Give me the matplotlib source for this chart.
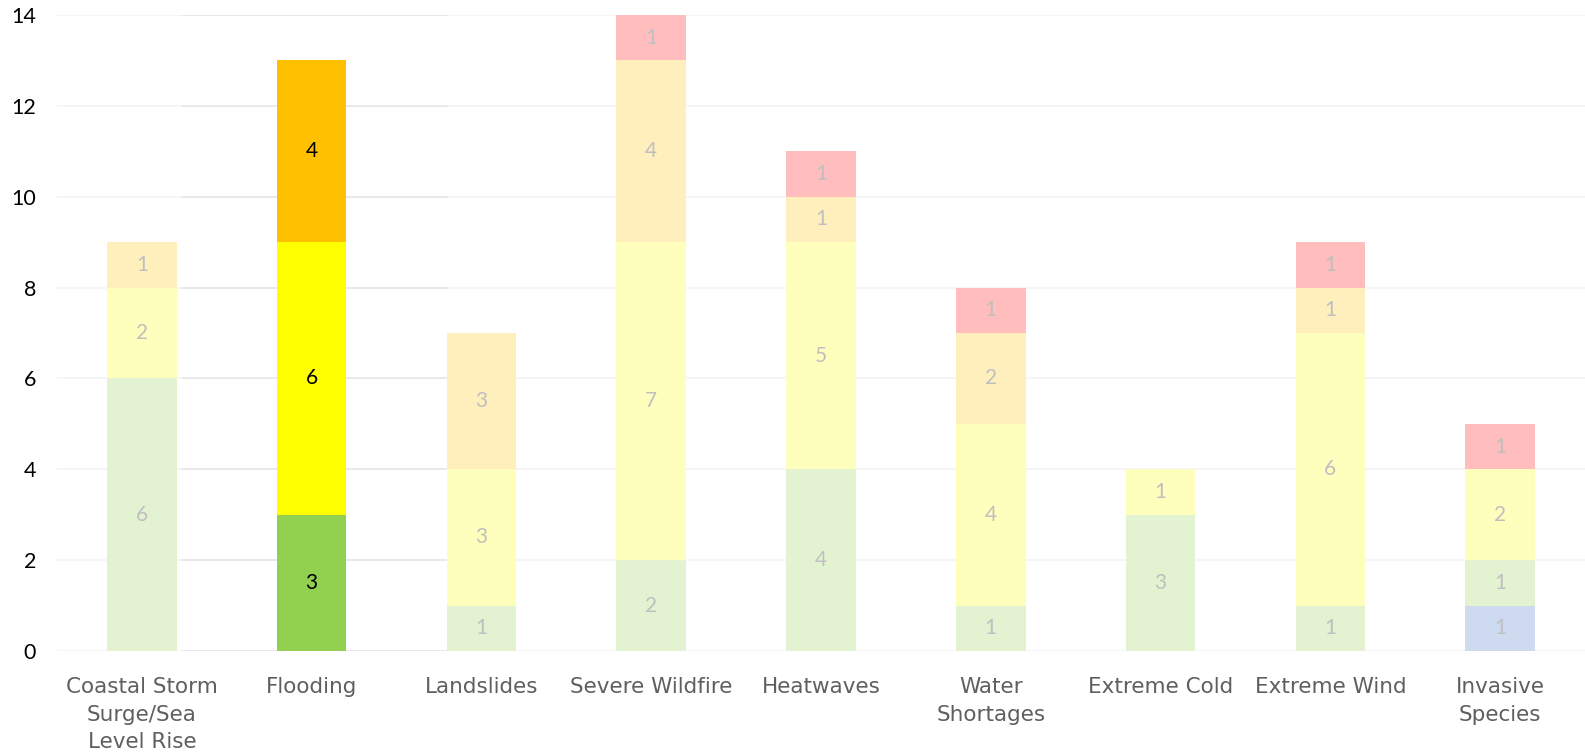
import matplotlib
matplotlib.use("Agg")
import matplotlib.pyplot as plt
import numpy as np

categories = ["Coastal Storm\nSurge/Sea\nLevel Rise", "Flooding", "Landslides", "Severe Wildfire",
              "Heatwaves", "Water\nShortages", "Extreme Cold", "Extreme Wind", "Invasive\nSpecies"]
blue   = [0, 0, 0, 0, 0, 0, 0, 0, 1]
green  = [6, 3, 1, 2, 4, 1, 3, 1, 1]
yellow = [2, 6, 3, 7, 5, 4, 1, 6, 2]
orange = [1, 4, 3, 4, 1, 2, 0, 1, 0]
red    = [0, 0, 0, 1, 1, 1, 0, 1, 1]
series = [blue, green, yellow, orange, red]
base_colors = ["#4472c4", "#92d050", "#ffff00", "#ffc000", "#ff0000"]
highlight = 1  # Flooding
yticks = [0, 2, 4, 6, 8, 10, 12, 14]

def fade(hexc, a=0.26):
    c = np.array(matplotlib.colors.to_rgb(hexc))
    return tuple(1 - a * (1 - c))

fig = plt.figure(figsize=(15.85, 7.53), dpi=100)
ax = fig.add_axes([57/1585, 1 - 651/753, 1528/1585, (651-15)/753])
n = len(categories)
x = np.arange(n)
ax.set_xlim(-0.5, n - 0.5)
ax.set_ylim(0, 14)

for yv in yticks:
    ax.axhline(yv, color="#f5f5f5", lw=1.3, zorder=0)
    ax.hlines(yv, 0.236, 1.803, color="#e8e8e8", lw=1.3, zorder=0.5)

bottom = np.zeros(n)
for vals, col in zip(series, base_colors):
    vals = np.array(vals, dtype=float)
    cols = [col if i == highlight else fade(col) for i in range(n)]
    ax.bar(x, vals, width=0.41, bottom=bottom, color=cols, zorder=2)
    for i in range(n):
        if vals[i] > 0:
            ax.text(x[i], bottom[i] + vals[i] / 2, f"{int(vals[i])}",
                    ha="center", va="center", fontsize=15, family="Lato",
                    color="black" if i == highlight else "#bfbfbf", zorder=3)
    bottom += vals

for s in ax.spines.values():
    s.set_visible(False)
ax.set_yticks(yticks)
ax.set_yticklabels([str(v) for v in yticks], family="Lato", fontsize=15.5, color="black")
ax.set_xticks(x)
ax.set_xticklabels(categories, family="DejaVu Sans", fontsize=15.5, color="#5f5f5f",
                   linespacing=1.45)
ax.tick_params(axis="both", length=0)
ax.tick_params(axis="y", pad=15)
ax.tick_params(axis="x", pad=19)

fig.savefig("out.png", dpi=100)
